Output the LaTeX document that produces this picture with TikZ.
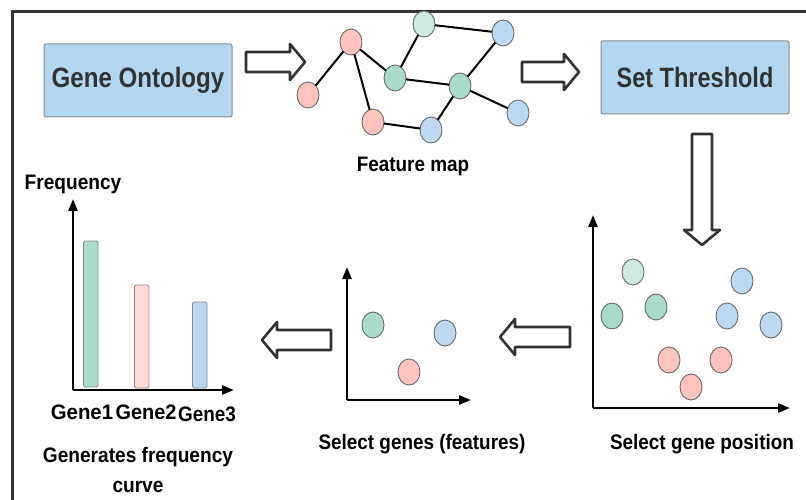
\documentclass[tikz,border=0pt]{standalone}
\usepackage{fontspec}
\setmainfont{Liberation Sans}
\usetikzlibrary{arrows.meta,shapes.geometric}

\definecolor{boxblue}{HTML}{B4D7F0}
\definecolor{boxedge}{HTML}{8A8A8A}
\definecolor{ink}{HTML}{333333}
\definecolor{dotpink}{HTML}{FFC3BD}
\definecolor{dotgreen}{HTML}{A9DCCB}
\definecolor{dotpale}{HTML}{CDE9E1}
\definecolor{dotblue}{HTML}{BDD9F1}
\definecolor{barpink}{HTML}{FFDAD7}
\definecolor{dotedge}{HTML}{6B6B6B}

\tikzset{
  every node/.style={inner sep=0pt, outer sep=0pt},
  stepbox/.style={draw=boxedge, fill=boxblue, rounded corners=2pt,
    minimum width=188pt, minimum height=73pt, line width=1pt, text=ink,
    font=\bfseries\fontsize{28}{32}\selectfont},
  caption/.style={font=\bfseries\fontsize{21}{25}\selectfont},
  gdot/.style={ellipse, draw=dotedge, line width=0.9pt,
    minimum width=22pt, minimum height=26pt, fill=#1},
  edge/.style={line width=2pt, black},
  axisline/.style={line width=2.6pt, black, -{Triangle[length=12pt,width=9pt]}},
  bar/.style={draw=boxedge, line width=0.9pt, rounded corners=1.5pt, fill=#1},
  arrowline/.style={draw=ink, fill=white, line width=2.6pt, line join=round},
  pics/harrow/.style={code={
    \path[arrowline] (0,-10) -- (#1-15,-10) -- (#1-15,-18) -- (#1,0)
      -- (#1-15,18) -- (#1-15,10) -- (0,10) -- cycle;
  }}
}

\begin{document}
\begin{tikzpicture}[x=1pt, y=-1pt]
\useasboundingbox (0,0) rectangle (806,500);

% outer frame (open to the right and bottom)
\draw[ink, line width=3pt] (806,12) -- (12,12) -- (12,500);

% process boxes
\node[stepbox] (go) at (138,80.5) {\scalebox{0.86}[1]{Gene Ontology}};
\node[stepbox] (thr) at (695,77.5) {\scalebox{0.84}[1]{Set Threshold}};

% hollow block arrows between stages
\pic at (246,62) {harrow=59};
\pic at (522,72) {harrow=57};
\pic[rotate=-90] at (702,134) {harrow=111};
\pic[rotate=180] at (570,337) {harrow=70};
\pic[rotate=180] at (331,340) {harrow=69};

% feature map network
\node[gdot=dotpink]  (na) at (308,95) {};
\node[gdot=dotpink]  (nb) at (351,42) {};
\node[gdot=dotpale]  (nc) at (424,24) {};
\node[gdot=dotblue]  (nd) at (503,33) {};
\node[gdot=dotgreen] (ne) at (395,78) {};
\node[gdot=dotgreen] (nf) at (460,86) {};
\node[gdot=dotpink]  (ng) at (373,122) {};
\node[gdot=dotblue]  (nh) at (431,130) {};
\node[gdot=dotblue]  (ni) at (518,113) {};
\draw[edge] (na) -- (nb);
\draw[edge] (nb) -- (ne);
\draw[edge] (nc) -- (ne);
\draw[edge] (nc) -- (nd);
\draw[edge] (nd) -- (nf);
\draw[edge] (ne) -- (nf);
\draw[edge] (nf) -- (nh);
\draw[edge] (nf) -- (ni);
\draw[edge] (nb) -- (ng);
\draw[edge] (ng) -- (nh);
\node[caption] (fmap) at (413,166) {\scalebox{0.9}[1]{Feature map}};

% scatter plot of gene positions
\coordinate (po) at (593,408);
\coordinate (py) at (593,215);
\coordinate (px) at (790,408);
\draw[axisline] (po) -- (py);
\draw[axisline] (po) -- (px);
\node[gdot=dotpale]  (p1) at (633,272) {};
\node[gdot=dotgreen] (p2) at (612,316) {};
\node[gdot=dotgreen] (p3) at (656,307) {};
\node[gdot=dotblue]  (p4) at (742,281) {};
\node[gdot=dotblue]  (p5) at (727,316) {};
\node[gdot=dotblue]  (p6) at (771,325) {};
\node[gdot=dotpink]  (p7) at (669,360) {};
\node[gdot=dotpink]  (p8) at (721,360) {};
\node[gdot=dotpink]  (p9) at (691,387) {};
\node[caption] (pos) at (702,444) {\scalebox{0.9}[1]{Select gene position}};

% scatter plot of selected genes
\coordinate (so) at (347,400);
\coordinate (sy) at (347,267);
\coordinate (sx) at (471,400);
\draw[axisline] (so) -- (sy);
\draw[axisline] (so) -- (sx);
\node[gdot=dotgreen] (s1) at (373,325) {};
\node[gdot=dotblue]  (s2) at (445,333) {};
\node[gdot=dotpink]  (s3) at (409,372) {};
\node[caption] (sel) at (422,444) {\scalebox{0.9}[1]{Select genes (features)}};

% frequency bar chart
\coordinate (bo) at (73,390);
\coordinate (by) at (73,199);
\coordinate (bx) at (234,390);
\draw[axisline] (bo) -- (by);
\draw[axisline] (bo) -- (bx);
\draw[bar=dotgreen] (83.5,241) rectangle (98,387);
\draw[bar=barpink]  (134.5,285) rectangle (149,388);
\draw[bar=dotblue]  (192.5,302) rectangle (207,388);
\node[caption] (freq) at (73,184) {\scalebox{0.91}[1]{Frequency}};
\node[caption] (g1) at (82,412) {\scalebox{0.97}[1]{Gene1}};
\node[caption] (g2) at (146,412) {\scalebox{0.95}[1]{Gene2}};
\node[caption] (g3) at (207,414) {\scalebox{0.9}[1]{Gene3}};
\node[caption, align=center] (gen) at (138,470)
  {\scalebox{0.91}[1]{Generates frequency}\\[5pt]\scalebox{0.91}[1]{curve}};
\end{tikzpicture}
\end{document}
